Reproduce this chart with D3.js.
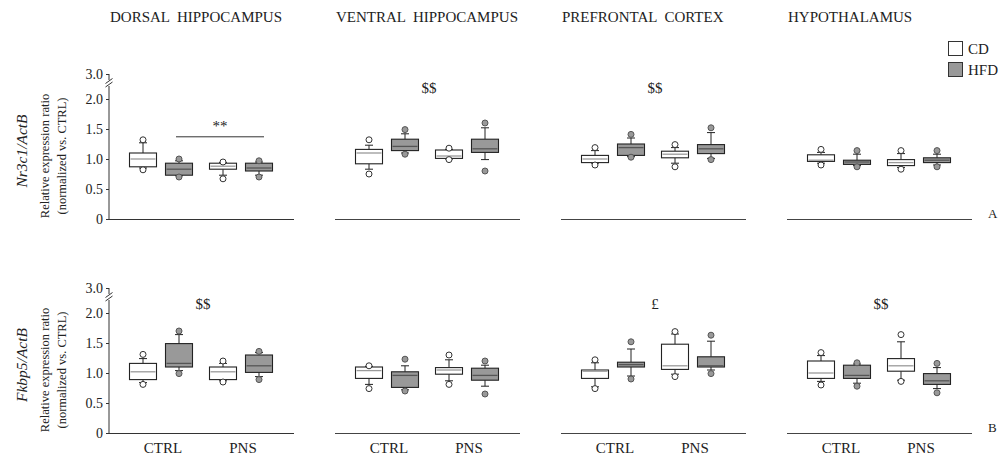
<!DOCTYPE html>
<html><head><meta charset="utf-8">
<script src="https://cdn.jsdelivr.net/npm/d3@7"></script>
<style>
html,body{margin:0;padding:0;background:#fff;}
svg text{font-family:"Liberation Serif","Times New Roman",serif;fill:#222;}
</style></head>
<body><svg id="c" width="1006" height="459"></svg>
<script>
// ---- data ----
const regions = ["DORSAL  HIPPOCAMPUS","VENTRAL  HIPPOCAMPUS","PREFRONTAL  CORTEX","HYPOTHALAMUS"];
const groups = ["CTRL","PNS"];
const diets = ["CD","HFD"];
const genes = ["Nr3c1/ActB","Fkbp5/ActB"];
const yTicks = [0,0.5,1.0,1.5,2.0,3.0];
const panelLetters = ["A","B"];
// each box: [lowDot, lowWhisker, q1, median, q3, highWhisker, highDot]; order CD-CTRL, HFD-CTRL, CD-PNS, HFD-PNS
const nr3c1Dorsal  = [[0.82,0.85,0.87,1.00,1.10,1.27,1.32],[0.70,0.72,0.73,0.83,0.93,0.97,1.00],[0.67,0.73,0.83,0.88,0.93,0.94,0.95],[0.70,0.73,0.80,0.85,0.93,0.95,0.97]];
const nr3c1Ventral = [[0.75,0.83,0.92,1.10,1.16,1.23,1.32],[1.08,1.10,1.14,1.21,1.33,1.42,1.49],[0.99,1.00,1.01,1.05,1.15,1.16,1.18],[0.80,0.99,1.11,1.17,1.33,1.52,1.60]];
const nr3c1PFC     = [[0.90,0.93,0.94,1.00,1.06,1.14,1.19],[1.03,1.04,1.06,1.19,1.25,1.35,1.41],[0.87,0.93,1.02,1.08,1.13,1.19,1.24],[0.99,1.01,1.09,1.17,1.24,1.44,1.52]];
const nr3c1Hypo    = [[0.90,0.93,0.96,0.98,1.07,1.11,1.16],[0.87,0.89,0.91,0.95,0.98,1.08,1.14],[0.83,0.86,0.89,0.94,0.99,1.09,1.14],[0.87,0.90,0.94,0.98,1.02,1.08,1.14]];
const fkbp5Dorsal  = [[0.81,0.84,0.89,1.02,1.16,1.24,1.31],[0.99,1.04,1.10,1.16,1.49,1.64,1.70],[0.85,0.87,0.89,1.02,1.10,1.16,1.20],[0.89,0.94,1.01,1.12,1.30,1.34,1.36]];
const fkbp5Ventral = [[0.74,0.81,0.91,1.04,1.10,1.11,1.12],[0.70,0.72,0.76,0.96,1.02,1.12,1.23],[0.81,0.87,0.98,1.05,1.09,1.22,1.30],[0.65,0.78,0.88,0.96,1.08,1.13,1.20]];
const fkbp5PFC     = [[0.74,0.77,0.91,1.03,1.05,1.17,1.22],[0.90,0.95,1.10,1.14,1.18,1.40,1.52],[0.94,0.98,1.06,1.12,1.48,1.65,1.69],[0.99,1.05,1.10,1.12,1.27,1.53,1.63]];
const fkbp5Hypo    = [[0.80,0.86,0.91,1.00,1.20,1.29,1.34],[0.78,0.83,0.91,0.96,1.13,1.15,1.17],[0.86,0.88,1.03,1.12,1.24,1.52,1.64],[0.67,0.74,0.81,0.87,0.99,1.09,1.16]];
const stats = [[nr3c1Dorsal,nr3c1Ventral,nr3c1PFC,nr3c1Hypo],[fkbp5Dorsal,fkbp5Ventral,fkbp5PFC,fkbp5Hypo]];
// significance marks: [row, region index, text, level]
const marks = [[0,1,"$$",2.45],[0,2,"$$",2.45],[1,0,"$$",2.38],[1,2,"£",2.38],[1,3,"$$",2.38]];
const bracket = {row:0, region:0, text:"**", level:1.37};

// ---- layout ----
const svg = d3.select("#c");
const rowBase = [219,433];
const panelW = 185;
const xPanel = d3.scalePoint().domain(d3.range(regions.length)).range([109,787]);
const xGroup = d3.scalePoint().domain(groups).range([52,132]);
const xDiet = d3.scalePoint().domain(diets).range([-18,18]);
const boxW = 27, capW = 8, r = 3;
const fillC = {CD:"#ffffff", HFD:"#999999"};
const medC = {CD:"#9a9a9a", HFD:"#555555"};

genes.forEach((gene,ri)=>{
  const y0 = rowBase[ri];
  const y = d3.scaleLinear().domain([0,2,3]).range([y0,y0-120,y0-145]);
  const ax = xPanel(0);
  const gA = svg.append("g").attr("transform",`translate(${ax},0)`);
  const axis = d3.axisLeft(y).tickValues(yTicks).tickSize(3).tickPadding(3)
      .tickFormat(d=> d===0 ? "0" : d3.format(".1f")(d));
  gA.call(axis);
  gA.select(".domain").remove();
  gA.selectAll(".tick line").attr("stroke","#333");
  gA.selectAll(".tick text").style("font-size","14px").attr("fill","#222")
    .style("font-family","'Liberation Serif',serif");
  const yt = y(3);
  gA.append("line").attr("x1",0).attr("x2",0).attr("y1",yt).attr("y2",yt+6).attr("stroke","#333");
  gA.append("line").attr("x1",0).attr("x2",0).attr("y1",yt+12).attr("y2",y0).attr("stroke","#333");
  [7,10.5].forEach(o=>gA.append("line").attr("x1",-3.5).attr("x2",3.5).attr("y1",yt+o+2.5).attr("y2",yt+o-2.5).attr("stroke","#333"));
  const cy = (y(0)+y(2))/2 - 8;
  svg.append("text").attr("transform",`translate(27,${cy}) rotate(-90)`).attr("text-anchor","middle")
    .style("font-size","15.5px").style("font-style","italic").text(gene);
  svg.append("text").attr("transform",`translate(49,${cy+5}) rotate(-90)`).attr("text-anchor","middle")
    .style("font-size","12.5px").text("Relative expression ratio");
  svg.append("text").attr("transform",`translate(66,${cy+5}) rotate(-90)`).attr("text-anchor","middle")
    .style("font-size","12.5px").text("(normalized vs. CTRL)");

  regions.forEach((reg,pi)=>{
    const px = xPanel(pi);
    const g = svg.append("g");
    g.append("line").attr("x1",px).attr("x2",px+panelW).attr("y1",y0+0.5).attr("y2",y0+0.5)
      .attr("stroke", pi===0 ? "#333" : "#444").attr("stroke-width",1.1);
    const data = stats[ri][pi];
    let k = 0;
    groups.forEach(gr=>{
      diets.forEach(dt=>{
        const s = data[k++];
        const cx = px + xGroup(gr) + xDiet(dt);
        const bg = g.append("g");
        bg.append("line").attr("x1",cx).attr("x2",cx).attr("y1",y(s[1])).attr("y2",y(s[2])).attr("stroke","#222");
        bg.append("line").attr("x1",cx).attr("x2",cx).attr("y1",y(s[4])).attr("y2",y(s[5])).attr("stroke","#222");
        [s[1],s[5]].forEach(v=>bg.append("line").attr("x1",cx-capW/2).attr("x2",cx+capW/2).attr("y1",y(v)).attr("y2",y(v)).attr("stroke","#222"));
        bg.append("rect").attr("x",cx-boxW/2).attr("width",boxW).attr("y",y(s[4])).attr("height",Math.max(1,y(s[2])-y(s[4])))
          .attr("fill",fillC[dt]).attr("stroke","#222").attr("stroke-width",1.1);
        bg.append("line").attr("x1",cx-boxW/2+1).attr("x2",cx+boxW/2-1).attr("y1",y(s[3])).attr("y2",y(s[3]))
          .attr("stroke",medC[dt]).attr("stroke-width",1.3);
        [s[0],s[6]].forEach(v=>bg.append("circle").attr("cx",cx).attr("cy",y(v)).attr("r",r)
          .attr("fill",fillC[dt]).attr("stroke", dt==="CD" ? "#333" : "#555").attr("stroke-width",1));
      });
    });
    if(ri===0){
      svg.append("text").attr("x",px+1).attr("y",22).style("font-size","15px").style("white-space","pre").text(reg);
    }
    if(ri===1){
      groups.forEach(gr=>svg.append("text").attr("x",px+xGroup(gr)+2).attr("y",453).attr("text-anchor","middle")
        .style("font-size","15px").text(gr));
    }
  });
  marks.filter(m=>m[0]===ri).forEach(m=>{
    svg.append("text").attr("x",xPanel(m[1])+94).attr("y",y(m[3])+5).attr("text-anchor","middle")
      .style("font-size","15px").text(m[2]);
  });
  if(bracket.row===ri){
    const px = xPanel(bracket.region);
    const xa = px+xGroup("CTRL")+xDiet("HFD")-3, xb = px+xGroup("PNS")+xDiet("HFD")+5;
    svg.append("line").attr("x1",xa).attr("x2",xb).attr("y1",y(bracket.level)).attr("y2",y(bracket.level)).attr("stroke","#333");
    svg.append("text").attr("x",(xa+xb)/2).attr("y",y(bracket.level)-6).attr("text-anchor","middle")
      .style("font-size","15px").text(bracket.text);
  }
  svg.append("text").attr("x",988).attr("y",y0-1).style("font-size","13px").text(panelLetters[ri]);
});

// legend
diets.forEach((d,i)=>{
  svg.append("rect").attr("x",948.5).attr("y",41.5+i*21).attr("width",14).attr("height",14)
    .attr("fill",fillC[d]).attr("stroke","#333");
  svg.append("text").attr("x",968).attr("y",54+i*21).style("font-size","15px").text(d);
});
</script></body></html>
